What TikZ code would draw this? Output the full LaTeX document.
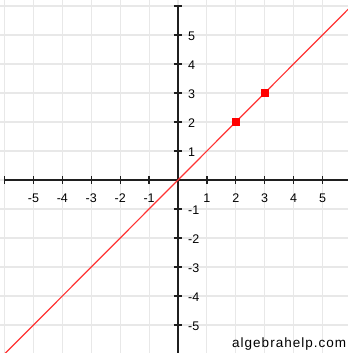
\documentclass[tikz,border=0pt]{standalone}
\usepackage{fontspec}
\setmainfont{Liberation Sans}
\begin{document}
\begin{tikzpicture}[x=28.9pt,y=29pt,
  gridline/.style={draw=black!9,line width=1.1pt},
  axisline/.style={draw=black!88,line width=1.4pt},
  tickmark/.style={draw=black!88,line width=1.3pt},
  graphline/.style={draw=red!80,line width=1.2pt},
  ptmark/.style={fill=red,draw=none,minimum size=8pt,inner sep=0pt,rectangle},
  xlab/.style={font=\fontsize{12.5}{14}\selectfont,anchor=base,inner sep=0pt},
  ylab/.style={font=\fontsize{12.5}{14}\selectfont,anchor=west,inner sep=0pt,yshift=-1.5pt},
  wm/.style={font=\fontsize{13.5}{16}\selectfont\addfontfeature{LetterSpace=7.5},anchor=base west,inner sep=0pt}]
\useasboundingbox (-6.159,-5.966) rectangle (5.882,6.207);
\fill[white] (-6.159,-5.966) rectangle (5.882,6.207);
\begin{scope}
\clip (-6.159,-5.966) rectangle (5.882,6.207);
% grid
\foreach \i in {-6,...,6} {
  \draw[gridline] (\i,-6.5) -- (\i,6.5);
  \draw[gridline] (-6.5,\i) -- (6.5,\i);
}
% axes
\coordinate (xl) at (-6,0);
\coordinate (xr) at (6.2,0);
\coordinate (yb) at (0,-6.2);
\coordinate (yt) at (0,6);
\draw[axisline] (xl) -- (xr);
\draw[axisline] (yb) -- (yt);
\foreach \i in {-6,...,6} {
  \draw[tickmark] (\i,-4pt) -- (\i,4pt);
  \draw[tickmark] (-4pt,\i) -- (4pt,\i);
}
% graph line
\coordinate (la) at (-6.5,-6.5);
\coordinate (lb) at (6.5,6.5);
\draw[graphline] (la) -- (lb);
\end{scope}
% points
\node[ptmark] (p2) at (2,2) {};
\node[ptmark] (p3) at (3,3) {};
% x labels
\foreach \i in {-5,...,-1,1,2,...,5} {
  \node[xlab] (xl\i) at (\i,-0.759) {\i};
}
% y labels
\foreach \i in {-5,...,-1,1,2,...,5} {
  \node[ylab] (yl\i) at (0.346,\i) {\i};
}
% watermark
\node[wm] (wmark) at (1.869,-5.769) {algebrahelp.com};
\end{tikzpicture}
\end{document}
